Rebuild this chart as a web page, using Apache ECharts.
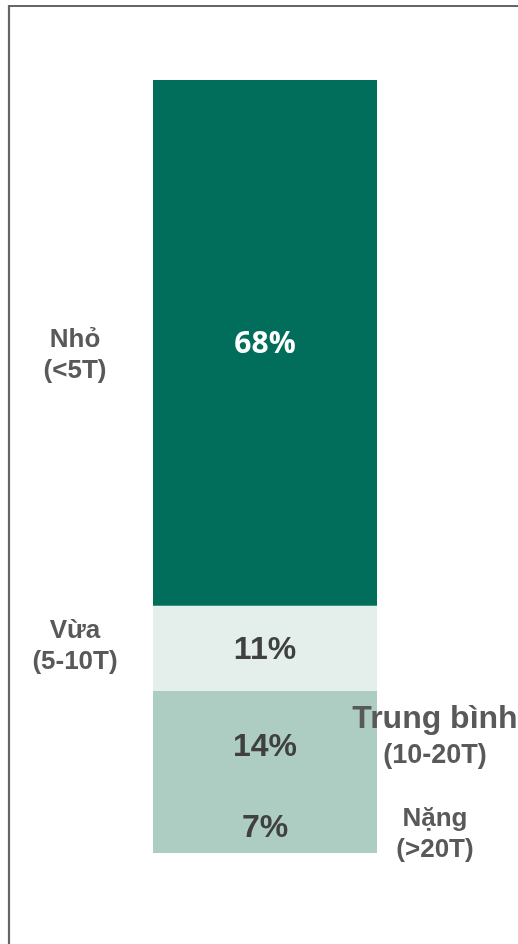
<!DOCTYPE html>
<html><head><meta charset="utf-8">
<script src="https://cdn.jsdelivr.net/npm/echarts@6/dist/echarts.min.js"></script>
<style>html,body{margin:0;padding:0;background:#fff}#c{width:518px;height:944px}</style>
</head><body><div id="c"></div>
<script>
// bottom to top
const segNames = ['Nặng', 'Trung bình', 'Vừa', 'Nhỏ'];
const segRanges = ['(>20T)', '(10-20T)', '(5-10T)', '(<5T)'];
const segValues = [7, 14, 11, 68];
const categories = ['Tải trọng'];

const segColors = ['#adcdc2', '#adcdc2', '#e4efeb', '#006e5b'];
const valueColors = ['#404040', '#404040', '#404040', '#ffffff'];
const nameSide = ['right', 'right', 'left', 'left'];
const nameDy = [8, -8, -2, 13];

const chart = echarts.init(document.getElementById('c'), null, {renderer: 'canvas'});
const series = segValues.map((v, i) => ({
  type: 'bar',
  name: segNames[i],
  stack: 'total',
  barWidth: '100%',
  data: [v],
  itemStyle: {color: segColors[i]},
  label: {
    show: true,
    position: 'inside',
    formatter: '{c}%',
    fontFamily: i === 3 ? 'Open Sans' : 'Liberation Sans',
    fontWeight: 'bold',
    fontSize: i === 3 ? 30 : 32,
    color: valueColors[i],
    offset: [0, i === 3 ? 2 : 2]
  }
}));

chart.setOption({
  animation: false,
  grid: {left: 153, right: 141, top: 80, bottom: 91, containLabel: false},
  xAxis: {type: 'category', data: categories, show: false},
  yAxis: {type: 'value', min: 0, max: 100, show: false},
  series: series
});

const graphics = [{
  type: 'rect', z: 100, silent: true,
  shape: {x: 9, y: 6, width: 530, height: 960},
  style: {fill: 'none', stroke: '#666666', lineWidth: 2.2}
}];
let cum = 0;
segValues.forEach((v, i) => {
  const mid = cum + v / 2;
  cum += v;
  const p = chart.convertToPixel({gridIndex: 0}, [0, mid]);
  const isTB = segNames[i] === 'Trung bình';
  const x = nameSide[i] === 'left' ? 75 : 435;
  graphics.push({
    type: 'text', z: 100, silent: true,
    x: x, y: p[1] + nameDy[i],
    style: {
      text: isTB ? '{a|' + segNames[i] + '}\n{b|' + segRanges[i] + '}' : segNames[i] + '\n' + segRanges[i],
      align: 'center', verticalAlign: 'middle',
      fontFamily: 'Liberation Sans', fontWeight: 'bold', fontSize: 26, lineHeight: 31,
      fill: '#595959',
      rich: {
        a: {fontFamily: 'Liberation Sans', fontWeight: 'bold', fontSize: 32, lineHeight: 38, fill: '#595959', align: 'center'},
        b: {fontFamily: 'Liberation Sans', fontWeight: 'bold', fontSize: 27, lineHeight: 36, fill: '#595959', align: 'center'}
      }
    }
  });
});
chart.setOption({graphic: graphics});
</script>
</body></html>
